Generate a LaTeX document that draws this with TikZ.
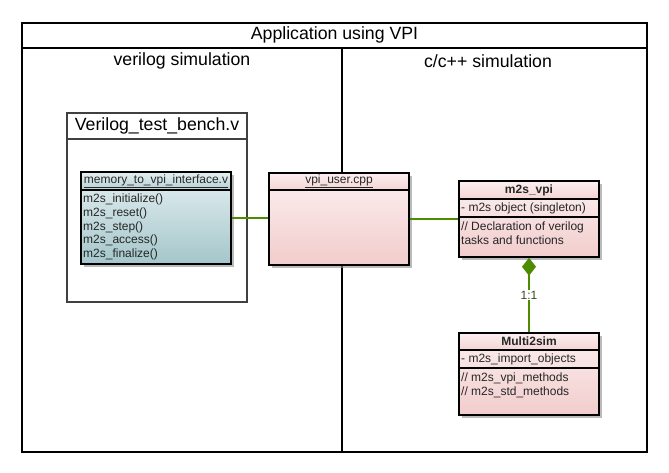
\documentclass[tikz,border=0pt]{standalone}
\usepackage{fontspec}
\setmainfont{Liberation Sans}
\usetikzlibrary{shadows,arrows.meta}
\definecolor{tealtop}{RGB}{228,239,241}
\definecolor{tealbot}{RGB}{164,198,202}
\definecolor{tealhead}{RGB}{180,208,212}
\definecolor{pinktop}{RGB}{252,240,240}
\definecolor{pinkbot}{RGB}{242,204,204}
\definecolor{pinkhead}{RGB}{244,212,212}
\definecolor{linkgreen}{RGB}{77,140,0}
\definecolor{ratiotext}{RGB}{60,72,36}
\tikzset{
	appframe/.style={draw=black,line width=1.5pt},%
	classbody/.style={draw=black,line width=1.5pt,inner sep=0pt,%
		drop shadow={shadow xshift=3pt,shadow yshift=-3pt,fill=black!45,opacity=0.6}},%
	classhead/.style={draw=black,line width=1.5pt,inner sep=0pt,anchor=north,%
		text=black!85,font=\fontsize{12}{14}\selectfont},%
	tealbox/.style={top color=tealtop,bottom color=tealbot},%
	tealtitle/.style={top color=tealtop,bottom color=tealhead},%
	pinkbox/.style={top color=pinktop,bottom color=pinkbot},%
	pinktitle/.style={top color=pinktop,bottom color=pinkhead},%
	members/.style={anchor=north west,inner sep=0pt,align=left,text=black!85,%
		font=\fontsize{12}{13.7}\selectfont},%
	sepline/.style={line width=1.5pt},%
	link/.style={draw=linkgreen,line width=1.5pt},%
	compose/.style={link,-{Diamond[length=18pt,width=14pt,fill=linkgreen]}},%
	ratio/.style={fill=white,inner sep=1pt,text=ratiotext,font=\fontsize{12}{14}\selectfont},%
	bigtitle/.style={font=\fontsize{17.7}{21}\selectfont},%
}

\begin{document}
\begin{tikzpicture}[x=1pt,y=-1pt]
	\useasboundingbox (0,0) rectangle (669,473);
	% frame with two lanes
	\draw[appframe] (22,23) rectangle (647,452);
	\draw[appframe] (22,48) -- (647,48);
	\draw[appframe] (342,48) -- (342,452);
	\node[bigtitle] (apptitle) at (334.5,35) {Application using VPI};
	\node[bigtitle] (veriloglane) at (182,61) {verilog simulation};
	\node[bigtitle] (cpplane) at (488,61) {c/c++ simulation};
	% test bench module
	\node[draw=black!75,line width=1.5pt,fill=white,minimum width=180pt,minimum height=189pt] (bench) at (157,207.5) {};
	\draw[draw=black!75,line width=1.5pt] (67,139) -- (247,139);
	\node[font=\fontsize{17.7}{21}\selectfont] (benchtitle) at (157,126) {Verilog\_test\_bench.v};
	% memory_to_vpi_interface.v
	\node[classbody,tealbox,minimum width=150pt,minimum height=92pt] (mem) at (156,218) {};
	\node[classhead,tealtitle,minimum width=150pt,minimum height=18pt] (memhead) at (mem.north) {\underline{memory\_to\_vpi\_interface.v}};
	\node[members] (memops) at (83,194) {m2s\_initialize()\\m2s\_reset()\\m2s\_step()\\m2s\_access()\\m2s\_finalize()};
	% vpi_user.cpp
	\node[classbody,pinkbox,minimum width=140pt,minimum height=92pt] (vpi) at (339,219) {};
	\node[classhead,pinktitle,minimum width=140pt,minimum height=17pt] (vpihead) at (vpi.north) {\underline{vpi\_user.cpp}};
	% m2s_vpi
	\node[classbody,pinkbox,minimum width=140pt,minimum height=76pt] (m2svpi) at (529,219) {};
	\node[classhead,pinktitle,minimum width=140pt,minimum height=18pt] (m2svpihead) at (m2svpi.north) {\textbf{m2s\_vpi}};
	\draw[sepline] (459,217) -- (599,217);
	\node[members] (m2svpiattr) at (461,203) {- m2s object (singleton)};
	\node[members] (m2svpiops) at (461,221.5) {// Declaration of verilog\\tasks and functions};
	% Multi2sim
	\node[classbody,pinkbox,minimum width=140pt,minimum height=82pt] (multi) at (529,374) {};
	\node[classhead,pinktitle,minimum width=140pt,minimum height=17pt] (multihead) at (multi.north) {\textbf{Multi2sim}};
	\draw[sepline] (459,368) -- (599,368);
	\node[members] (multiattr) at (461,354) {- m2s\_import\_objects};
	\node[members] (multiops) at (461,373) {// m2s\_vpi\_methods\\// m2s\_std\_methods};
	% connectors
	\draw[link] (mem.east) -- (mem.east -| vpi.west);
	\draw[link] (vpi.east) -- (m2svpi.west);
	\draw[compose] (multi.north) -- (m2svpi.south) node[ratio,pos=0.5] (ratiolabel) {1:1};
\end{tikzpicture}
\end{document}
